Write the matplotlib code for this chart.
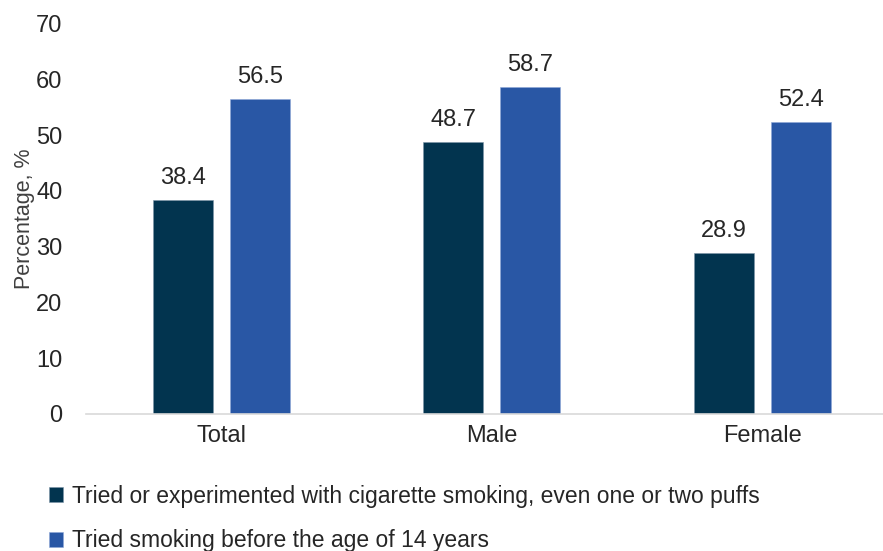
import matplotlib.pyplot as plt
import numpy as np

plt.rcParams['font.family'] = ['Liberation Sans', 'DejaVu Sans']

# Data
categories = ['Total', 'Male', 'Female']
tried = [38.4, 48.7, 28.9]
before_14 = [56.5, 58.7, 52.4]
labels = ['Tried or experimented with cigarette smoking, even one or two puffs',
          'Tried smoking before the age of 14 years']

dark = '#02344f'
blue = '#2957a5'
text_col = '#262626'

fig = plt.figure(figsize=(8.83, 5.51), dpi=100)
ax = fig.add_axes([86 / 883, 1 - 414 / 551, 1 - 86 / 883, (414 - 23.7) / 551])

x = np.arange(len(categories))
w = 0.222
off = 0.1423
b1 = ax.bar(x - off, tried, w, color=dark, edgecolor='#7d95a8', linewidth=0.4, label=labels[0])
b2 = ax.bar(x + off, before_14, w, color=blue, edgecolor='#8fa8d8', linewidth=0.4, label=labels[1])

for bars, vals in [(b1, tried), (b2, before_14)]:
    for r, v in zip(bars, vals):
        ax.annotate(f'{v:.1f}', (r.get_x() + r.get_width() / 2, v),
                    xytext=(0, 8), textcoords='offset points',
                    ha='center', va='bottom', fontsize=17, color=text_col)

ax.set_xlim(-0.5, 2.445)
ax.set_ylim(0, 70)
ax.set_yticks(range(0, 71, 10))
ax.set_xticks(x)
ax.set_xticklabels(categories)
ax.tick_params(axis='both', length=0, labelsize=17, colors=text_col)
ax.tick_params(axis='x', pad=8)
ax.tick_params(axis='y', pad=17)
for s in ['top', 'right', 'left']:
    ax.spines[s].set_visible(False)
ax.spines['bottom'].set_color('#d9d9d9')
ax.spines['bottom'].set_linewidth(1.2)

ax.set_ylabel('Percentage, %', fontsize=15.5, color='#404040', labelpad=1)

fig.legend(loc='upper left', bbox_to_anchor=(0.032, 0.158), frameon=False,
           fontsize=16.5, handlelength=0.6, handleheight=0.6, handletextpad=0.4,
           labelspacing=0.95, labelcolor=text_col)

plt.savefig('out.png', dpi=100)
